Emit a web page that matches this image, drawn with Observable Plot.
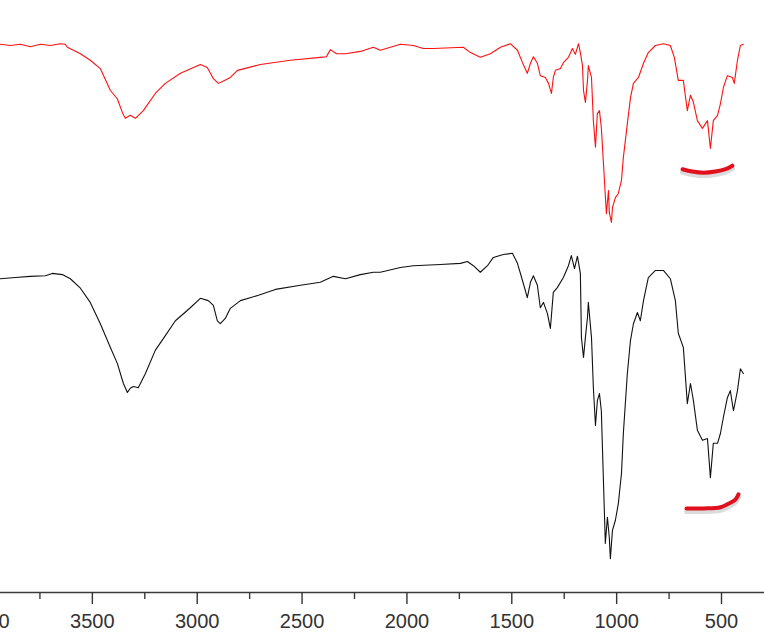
<!DOCTYPE html>
<html>
<head>
<meta charset="utf-8">
<script src="https://cdn.jsdelivr.net/npm/d3@7"></script>
<script src="https://cdn.jsdelivr.net/npm/@observablehq/plot@0.6"></script>
<style>
  html, body { margin: 0; padding: 0; background: #fff; overflow: hidden; }
  #chart { width: 764px; height: 644px; }
</style>
</head>
<body>
<div id="chart"></div>
<script>
// Wavenumbers (cm-1) and transmittance readings for the upper (red) spectrum
const redWavenumber = [3939,3891,3843,3796,3748,3700,3653,3629,3619,3557,3510,3462,3414,3381,3357,3343,3319,3295,3257,3200,3152,3080,2985,2952,2923,2899,2870,2842,2808,2699,2556,2413,2384,2365,2336,2293,2222,2160,2127,2031,1969,1922,1874,1731,1697,1650,1602,1554,1507,1473,1449,1426,1411,1397,1378,1364,1340,1325,1311,1302,1292,1268,1254,1230,1211,1197,1182,1173,1163,1158,1149,1139,1135,1120,1111,1101,1092,1082,1073,1063,1049,1039,1035,1025,1020,1006,992,977,968,949,934,920,896,872,849,815,777,744,725,706,682,663,648,634,615,591,567,553,539,519,505,491,472,448,439,424,410,396];
const redTransmittance = [92.6,92.4,92.6,92.2,92.6,92.4,92.7,92.6,92.1,91.0,89.9,88.5,84.8,83.4,81.1,80.1,80.6,80.1,81.4,84.3,86.0,87.7,89.2,88.7,86.8,86.0,86.5,87.0,88.2,89.2,89.9,90.4,90.5,91.7,91.0,91.0,91.4,92.1,91.6,92.6,92.4,91.9,91.9,92.1,91.2,90.4,91.0,92.1,92.7,91.6,89.5,87.7,89.4,90.5,89.4,87.3,87.0,86.0,84.3,87.0,88.2,88.5,89.5,90.4,91.9,90.9,92.7,91.2,89.0,84.8,82.8,86.5,89.0,87.0,79.7,75.2,80.9,81.4,78.5,72.5,64.0,67.9,64.2,62.5,65.0,66.7,67.4,69.6,73.5,79.2,83.6,86.0,87.0,89.4,91.2,92.4,92.7,92.4,90.4,86.5,86.5,81.4,84.0,82.8,79.7,78.4,79.7,75.0,79.7,80.6,82.6,85.3,87.3,87.0,86.0,89.9,92.4,92.6];

// Wavenumbers (cm-1) and transmittance readings for the lower (black) spectrum
const blackWavenumber = [3939,3867,3796,3724,3691,3643,3605,3557,3510,3462,3414,3381,3352,3333,3319,3304,3281,3247,3200,3152,3104,3033,2985,2947,2923,2904,2890,2866,2842,2794,2708,2627,2508,2413,2351,2293,2222,2160,2127,2031,1969,1840,1745,1712,1683,1650,1616,1588,1540,1497,1473,1449,1426,1411,1397,1378,1364,1349,1330,1316,1302,1283,1254,1230,1216,1201,1187,1173,1168,1158,1149,1139,1135,1120,1111,1101,1092,1082,1073,1063,1054,1044,1035,1030,1020,1006,992,977,968,949,934,920,901,887,872,849,815,777,744,720,706,682,663,648,634,615,591,567,553,539,519,505,491,472,458,443,424,410,396];
const blackTransmittance = [53.0,53.2,53.4,53.5,53.9,53.7,53.0,51.4,49.0,45.4,41.4,38.7,35.3,33.8,34.5,34.8,34.6,37.0,40.9,43.4,45.9,48.1,49.7,49.3,48.5,45.9,45.4,46.3,48.0,49.3,50.2,51.2,51.9,52.4,53.4,53.0,53.7,54.1,54.1,54.9,55.2,55.4,55.6,55.9,55.2,54.1,55.2,56.6,57.1,57.3,55.6,52.7,49.8,52.4,53.5,51.9,48.1,49.0,47.1,44.6,50.7,51.5,53.2,55.2,56.9,54.7,56.8,53.9,43.1,39.7,43.1,46.5,49.0,43.1,34.6,28.2,32.4,33.6,30.7,18.9,8.3,12.7,9.3,5.7,10.5,12.2,15.0,20.1,26.9,37.0,42.6,45.4,47.3,45.9,49.3,53.2,54.4,54.4,53.0,49.3,43.8,41.4,31.9,35.3,32.4,27.4,25.7,26.0,19.4,25.2,25.2,26.9,29.6,32.9,34.1,30.7,34.1,37.8,37.0];

// Hand-drawn red underline marks (in the same wavenumber / transmittance units)
const markUpperWavenumber = [686,639,586,529,481,448];
const markUpperTransmittance = [71.5,71.1,70.9,71.1,71.5,72.1];
const markLowerWavenumber = [667,586,505,467,434,419];
const markLowerTransmittance = [14.2,14.2,14.4,15.0,15.7,16.6];

// Axis ticks
const majorTicks = [4000,3500,3000,2500,2000,1500,1000,500];
const minorTicks = [3750,3250,2750,2250,1750,1250,750];

const toRows = (xs, ys) => xs.map((x, i) => ({wn: x, t: ys[i]}));
const red = toRows(redWavenumber, redTransmittance);
const black = toRows(blackWavenumber, blackTransmittance);
const markUpper = toRows(markUpperWavenumber, markUpperTransmittance);
const markLower = toRows(markLowerWavenumber, markLowerTransmittance);

const chart = Plot.plot({
  width: 764,
  height: 644,
  marginTop: 0,
  marginRight: 0,
  marginBottom: 52,
  marginLeft: 0,
  style: {fontFamily: "'Liberation Sans', Arial, sans-serif", background: "#fff", overflow: "visible"},
  x: {domain: [4000, 295], range: [-13, 764], label: null},
  y: {domain: [0, 100], axis: null},
  marks: [
    Plot.ruleY([0], {stroke: "#3a3a3a", strokeWidth: 1.6}),
    Plot.axisX({ticks: minorTicks, tickSize: 7, tickFormat: () => "", stroke: "#3a3a3a", strokeWidth: 1.4, label: null}),
    Plot.axisX({ticks: majorTicks, tickSize: 12, tickPadding: 9, tickFormat: d => String(d),
      fontSize: 20, color: "#333", strokeWidth: 1.4, label: null}),
    Plot.line(red, {x: "wn", y: "t", stroke: "#ff1010", strokeWidth: 1.1}),
    Plot.line(black, {x: "wn", y: "t", stroke: "#111", strokeWidth: 1.1}),
    Plot.line(markUpper, {x: "wn", y: "t", stroke: "#888", strokeOpacity: 0.3, strokeWidth: 5, dy: 3, curve: "catmull-rom", strokeLinecap: "round"}),
    Plot.line(markLower, {x: "wn", y: "t", stroke: "#888", strokeOpacity: 0.3, strokeWidth: 5, dy: 3, curve: "catmull-rom", strokeLinecap: "round"}),
    Plot.line(markUpper, {x: "wn", y: "t", stroke: "#e0101c", strokeWidth: 4, curve: "catmull-rom", strokeLinecap: "round"}),
    Plot.line(markLower, {x: "wn", y: "t", stroke: "#e0101c", strokeWidth: 4, curve: "catmull-rom", strokeLinecap: "round"})
  ]
});
document.getElementById("chart").appendChild(chart);
</script>
</body>
</html>
